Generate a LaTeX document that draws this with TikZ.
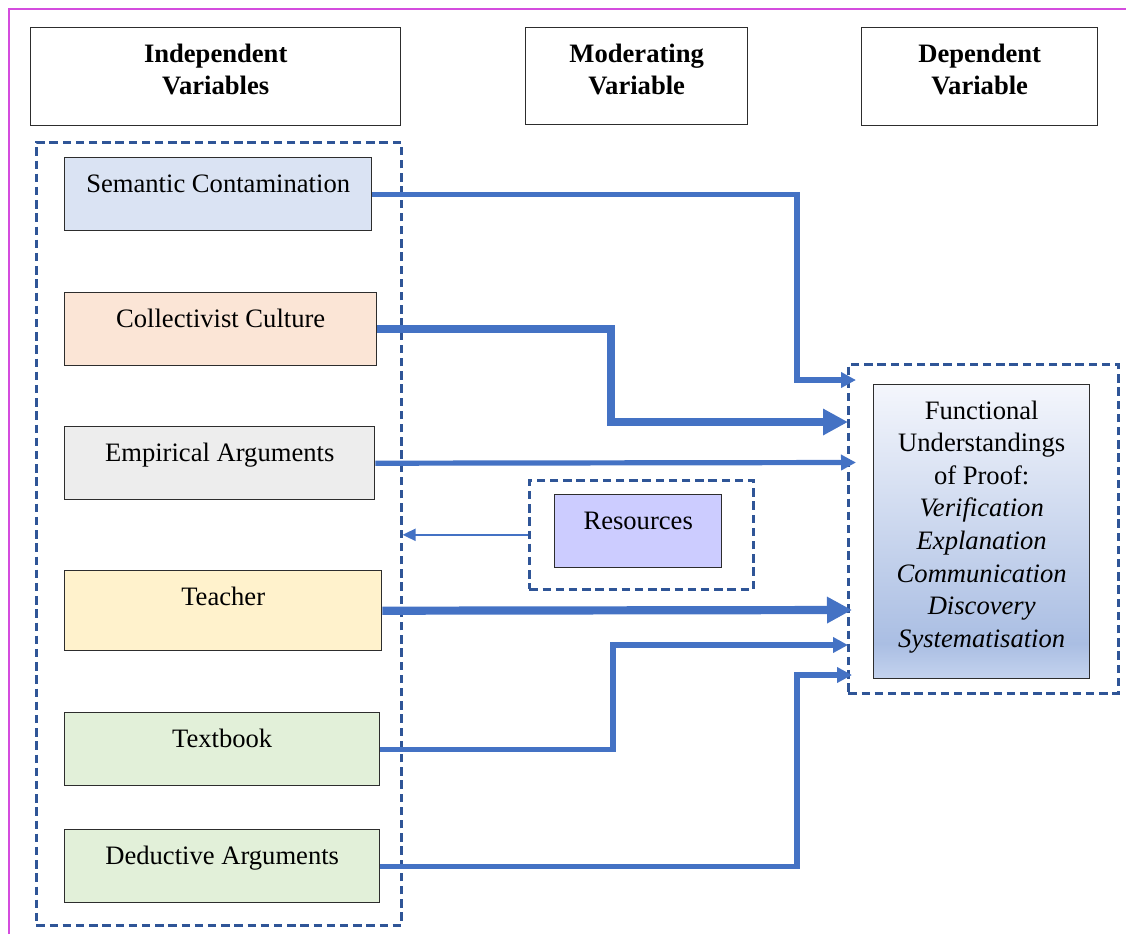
\documentclass[tikz,border=0pt]{standalone}
\usepackage{fontspec}
\setmainfont{Liberation Serif}
\usetikzlibrary{arrows.meta}

\definecolor{frameline}{RGB}{212,76,222}
\definecolor{boxline}{RGB}{45,45,45}
\definecolor{dashblue}{RGB}{47,85,151}
\definecolor{arrowblue}{RGB}{68,114,196}
\definecolor{semfill}{RGB}{218,227,243}
\definecolor{colfill}{RGB}{251,229,214}
\definecolor{empfill}{RGB}{237,237,237}
\definecolor{teafill}{RGB}{255,242,204}
\definecolor{txtfill}{RGB}{226,240,217}
\definecolor{resfill}{RGB}{204,204,255}
\definecolor{ftop}{RGB}{244,246,252}
\definecolor{fmid}{RGB}{170,190,227}
\definecolor{fbot}{RGB}{196,211,238}

% light at the top, deepening towards the foot, a paler band at the bottom
\pgfdeclareverticalshading{funcshade}{100bp}{color(0bp)=(fbot); color(25bp)=(fbot); color(31bp)=(fmid); color(75bp)=(ftop); color(100bp)=(ftop)}

% centred lines whose reference point is the first baseline
\newcommand{\toplines}[1]{\vtop{\let\\\cr\halign{\hfil##\hfil\cr#1\cr}}}

\tikzset{
  frame/.style={draw=frameline, line width=1pt},
  hdr/.style={draw=boxline, line width=0.7pt, inner sep=0pt, anchor=north west,
    text height=17.5pt, font=\bfseries\fontsize{13.3}{16}\selectfont},
  var/.style={draw=boxline, line width=0.7pt, inner sep=0pt, anchor=north west,
    text height=17.5pt, text depth=19pt},
  grp/.style={draw=dashblue, line width=1.3pt, dash pattern=on 4.2pt off 2.4pt,
    inner sep=0pt, anchor=north west},
  conn/.style={draw=arrowblue, line width=2.6pt, -{Triangle[length=7.5pt,width=7.5pt]}},
  connthick/.style={draw=arrowblue, line width=4.1pt, -{Triangle[length=12.5pt,width=12.5pt]}},
  resarrow/.style={draw=arrowblue, line width=1.1pt, -{Triangle[length=6.5pt,width=6pt]}},
}

\begin{document}
\begin{tikzpicture}[x=0.5pt,y=-0.5pt]
\fontsize{13.3}{15}\selectfont
\useasboundingbox (0,0) rectangle (1126,934);

% page frame
\draw[frame] (9,934) -- (9,9) -- (1126,9);

% column headings
\node[hdr, minimum width=185pt, text depth=31.5pt] (hind) at (30,27) {\toplines{Independent\\Variables}};
\node[hdr, minimum width=111pt, text depth=31pt] (hmod) at (525,27) {\toplines{Moderating\\Variable}};
\node[hdr, minimum width=118pt, text depth=31.5pt] (hdep) at (861,27) {\toplines{Dependent\\Variable}};

% dashed groups
\node[grp, minimum width=182.5pt, minimum height=391.5pt] (indep) at (35,141) {};
\node[grp, minimum width=135pt, minimum height=164.5pt] (dep) at (847,363) {};
\node[grp, minimum width=112pt, minimum height=54.5pt] (mod) at (528,479) {};

% independent variables
\node[var, fill=semfill, minimum width=153.5pt] (sem) at (64,157) {Semantic Contamination};
\node[var, fill=colfill, minimum width=156pt] (col) at (64,292) {Collectivist Culture};
\node[var, fill=empfill, minimum width=155pt] (emp) at (64,426) {Empirical Arguments};
\node[var, fill=teafill, minimum width=158.5pt, text depth=22.5pt] (tea) at (64,570) {Teacher};
\node[var, fill=txtfill, minimum width=157.5pt] (txt) at (64,712) {Textbook};
\node[var, fill=txtfill, minimum width=157.5pt] (ded) at (64,829) {Deductive Arguments};

% moderating variable
\node[var, fill=resfill, minimum width=83.5pt] (res) at (554,494) {Resources};

% dependent variable
\node[draw=boxline, line width=0.7pt, shade, shading=funcshade, inner sep=0pt, anchor=north west,
  minimum width=108pt, text height=17.15pt, text depth=129.85pt] (fun) at (873,384)
  {\fontsize{13.3}{16.3}\selectfont\toplines{Functional\\Understandings\\of Proof:\\\textit{Verification}\\\textit{Explanation}\\\textit{Communication}\\\textit{Discovery}\\\textit{Systematisation}}};

% arrow ends at the dependent group
\coordinate (e1) at (856,380);
\coordinate (e2) at (848,422);
\coordinate (e3) at (856,462.5);
\coordinate (e4) at (852,610);
\coordinate (e5) at (848,645);
\coordinate (e6) at (852,675);

% connectors
\draw[conn] (sem.east) -| (797,380) -- (e1);
\draw[connthick] (col.east) -| (611,422) -- (e2);
\draw[conn] (emp.east) -- (e3);
\draw[connthick] (tea.east) -- (e4);
\draw[conn] (txt.east) -| (613,645) -- (e5);
\draw[conn] (ded.east) -| (797,675) -- (e6);
\draw[resarrow] (mod.west) -- (mod.west -| indep.east);
\end{tikzpicture}
\end{document}
